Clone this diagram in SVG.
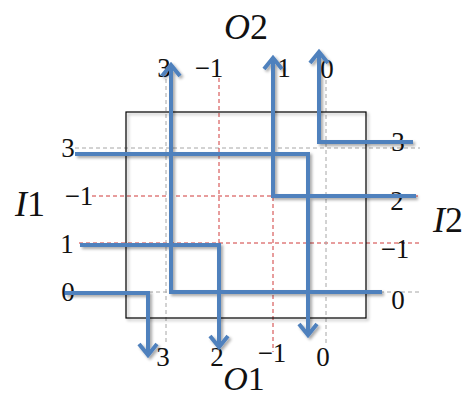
<svg xmlns="http://www.w3.org/2000/svg" width="468" height="398" viewBox="0 0 468 398">
<style>
.g{stroke:#a6a6a6;stroke-width:1;stroke-dasharray:4 3;fill:none}
.r{stroke:#d03a3a;stroke-width:1;stroke-dasharray:4 3;fill:none}
.w{stroke:#4f81bd;stroke-width:4;fill:none;marker-end:url(#ah)}
.n{font-family:"Liberation Serif","DejaVu Serif",serif;font-size:27px;fill:#111;text-anchor:middle}
.b{font-family:"Liberation Serif","DejaVu Serif",serif;font-size:36px;fill:#111;text-anchor:middle}
.i{font-style:italic}
</style>
<defs>
<filter id="sh" x="-10%" y="-10%" width="130%" height="130%">
<feGaussianBlur in="SourceAlpha" stdDeviation="1.5"/>
<feOffset dx="2" dy="2" result="o"/>
<feComponentTransfer><feFuncA type="linear" slope="0.35"/></feComponentTransfer>
<feMerge><feMergeNode/><feMergeNode in="SourceGraphic"/></feMerge>
</filter>
<marker id="ah" markerUnits="userSpaceOnUse" markerWidth="30" markerHeight="30" viewBox="-15 -15 30 30" refX="0" refY="0" orient="auto" overflow="visible">
<path d="M-11 -9 L0 0 L-11 9" fill="none" stroke="#4f81bd" stroke-width="4"/>
</marker>
</defs>
<g id="grid">
<line class="g" x1="75" y1="148" x2="420" y2="148"/>
<line class="r" x1="92" y1="196" x2="420" y2="196"/>
<line class="r" x1="79" y1="243" x2="420" y2="243"/>
<line class="g" x1="65" y1="292" x2="420" y2="292"/>
<line class="g" x1="166" y1="65" x2="166" y2="345"/>
<line class="r" x1="219" y1="78" x2="219" y2="345"/>
<line class="r" x1="273" y1="78" x2="273" y2="352"/>
<line class="g" x1="326" y1="80" x2="326" y2="345"/>
</g>
<g id="box" filter="url(#sh)">
<rect x="126" y="112" width="240" height="206" fill="none" stroke="#000" stroke-width="1.2"/>
</g>
<g id="labels">
<text class="n" x="164" y="77">3</text>
<text class="n" x="209" y="77">−1</text>
<text class="n" x="284" y="77">1</text>
<text class="n" x="327" y="78">0</text>
<text class="n" x="68" y="157">3</text>
<text class="n" x="79" y="205">−1</text>
<text class="n" x="67" y="253">1</text>
<text class="n" x="68" y="301">0</text>
<text class="n" x="398" y="151">3</text>
<text class="n" x="397" y="210">2</text>
<text class="n" x="395" y="258">−1</text>
<text class="n" x="398" y="309">0</text>
<text class="n" x="163" y="366">3</text>
<text class="n" x="217" y="366">2</text>
<text class="n" x="272" y="362">−1</text>
<text class="n" x="323" y="366">0</text>
<text class="b" x="246" y="39"><tspan class="i">O</tspan>2</text>
<text class="b" x="244" y="390" style="font-size:34px"><tspan class="i">O</tspan>1</text>
<text class="b" x="30" y="216"><tspan class="i">I</tspan>1</text>
<text class="b" x="448" y="232"><tspan class="i">I</tspan>2</text>
</g>
<g id="connectors" filter="url(#sh)">
<path class="w" d="M75 154 H308 V335"/>
<path class="w" d="M80 245 H219 V347"/>
<path class="w" d="M65 293 H148 V355"/>
<path class="w" d="M382 292 H171 V65"/>
<path class="w" d="M416 196 H273 V58"/>
<path class="w" d="M413 142 H319 V52"/>
</g>
</svg>
